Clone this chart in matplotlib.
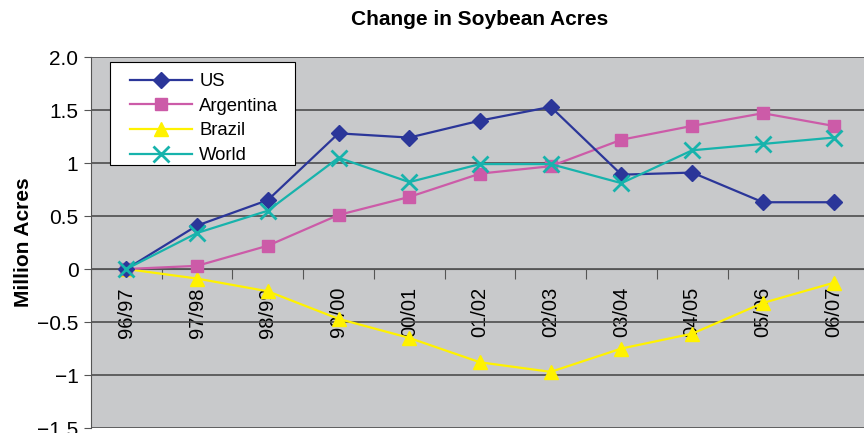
import numpy as np
import matplotlib
matplotlib.use("Agg")
import matplotlib.pyplot as plt
from matplotlib.patches import Rectangle

plt.rcParams['font.family'] = ['Liberation Sans', 'DejaVu Sans']

seasons = ["96/97", "97/98", "98/99", "99/00", "00/01", "01/02",
           "02/03", "03/04", "04/05", "05/06", "06/07"]
us = [0, 0.41, 0.65, 1.28, 1.24, 1.40, 1.53, 0.89, 0.91, 0.63, 0.63]
argentina = [0, 0.03, 0.22, 0.51, 0.68, 0.90, 0.97, 1.22, 1.35, 1.47, 1.35]
brazil = [0, -0.09, -0.21, -0.47, -0.65, -0.88, -0.97, -0.75, -0.61, -0.32, -0.13]
world = [0, 0.34, 0.55, 1.05, 0.82, 0.99, 0.99, 0.81, 1.12, 1.18, 1.24]
yticks = [-1.5, -1, -0.5, 0, 0.5, 1, 1.5, 2.0]
ytick_labels = ["\u22121.5", "\u22121", "\u22120.5", "0", "0.5", "1", "1.5", "2.0"]

fig = plt.figure(figsize=(8.64, 4.33), dpi=100)
ax = fig.add_axes([0.1053, 0.0115, 0.9005, 0.8568])
ax.set_facecolor("#C8C9CB")

x = np.arange(len(seasons))
ax.plot(x, us, color="#2B3699", marker="D", markersize=8, lw=1.6, label="US", zorder=5)
ax.plot(x, argentina, color="#CC5BA8", marker="s", markersize=9, lw=1.6, label="Argentina", zorder=4)
ax.plot(x, brazil, color="#FFF200", marker="^", markersize=10, lw=1.6, label="Brazil", zorder=3)
ax.plot(x, world, color="#17B3AC", marker="x", markersize=11, mew=2, lw=1.6, label="World", zorder=6)

ax.set_xlim(-0.5, len(seasons) - 0.5)
ax.set_ylim(-1.5, 2.0)
ax.set_yticks(yticks)
ax.set_yticklabels(ytick_labels, fontsize=15)
ax.yaxis.grid(True, color="#4D4D4D", lw=1.2)
ax.set_axisbelow(True)

# category axis crosses at zero, labels sit inside the plot
ax.spines['bottom'].set_position(('data', 0))
ax.spines['bottom'].set_color("#555555")
ax.spines['left'].set_color("#555555")
ax.spines['top'].set_visible(False)
ax.spines['right'].set_visible(False)
ax.set_xticks(np.arange(-0.5, len(seasons) + 0.5, 1))
ax.set_xticks(x, minor=True)
ax.set_xticklabels([])
ax.set_xticklabels(seasons, minor=True, rotation=90, fontsize=14.5, va="top")
ax.tick_params(axis="x", which="major", length=7, direction="out", color="#555555")
ax.tick_params(axis="x", which="minor", length=0, pad=13)
ax.tick_params(axis="y", length=5, color="#555555", pad=4)

ax.set_ylabel("Million Acres", fontsize=15, fontweight="bold", labelpad=3)
fig.text(0.555, 0.955, "Change in Soybean Acres", ha="center", va="center",
         fontsize=15, fontweight="bold")

# legend box drawn separately so it can have wider side padding
ax.add_patch(Rectangle((0.0244, 0.709), 0.2378, 0.2776, transform=ax.transAxes,
                       facecolor="white", edgecolor="black", lw=0.8, zorder=9))
leg = ax.legend(loc="upper left", bbox_to_anchor=(0.050, 0.957), fontsize=13.3,
                frameon=False, handlelength=3.35, handletextpad=0.4,
                borderpad=0, borderaxespad=0, labelspacing=0.42)
leg.set_zorder(10)

fig.savefig("out.png", dpi=100)
